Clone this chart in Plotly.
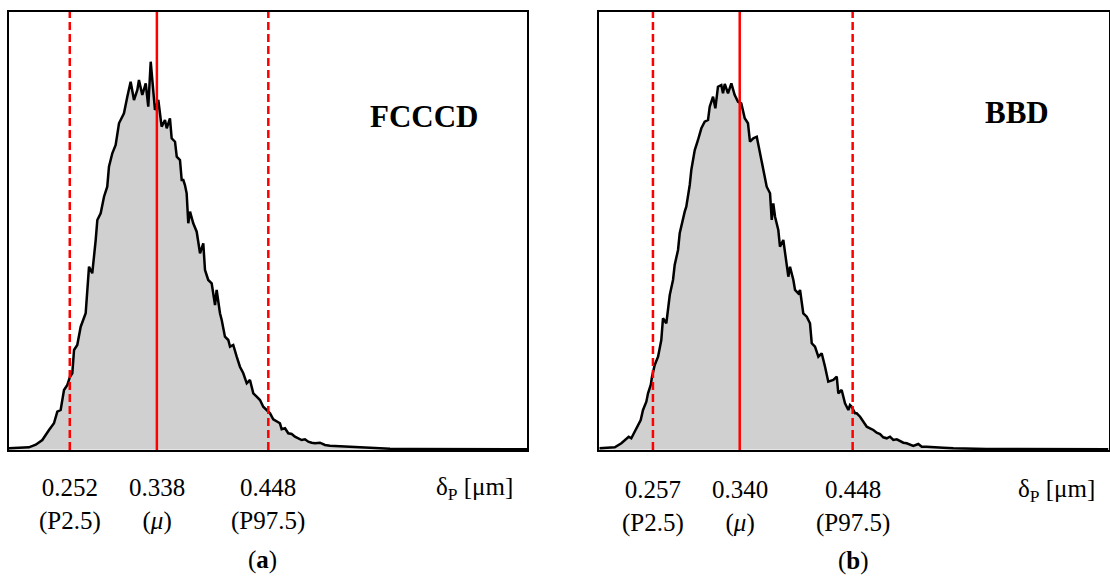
import plotly.graph_objects as go

# ---------------- data ----------------
# Panel (a) FCCCD : delta_P [um] and histogram frequency (arbitrary counts)
a_x = [0.1920, 0.2117, 0.2184, 0.2249, 0.2315, 0.2364, 0.2397, 0.2430, 0.2463, 0.2496,
       0.2522, 0.2545, 0.2562, 0.2594, 0.2628, 0.2660, 0.2677, 0.2710, 0.2742, 0.2776,
       0.2792, 0.2825, 0.2858, 0.2890, 0.2907, 0.2940, 0.2973, 0.3006, 0.3055, 0.3088,
       0.3121, 0.3154, 0.3187, 0.3203, 0.3236, 0.3270, 0.3295, 0.3319, 0.3339, 0.3361,
       0.3394, 0.3411, 0.3427, 0.3460, 0.3477, 0.3509, 0.3526, 0.3559, 0.3576, 0.3608,
       0.3625, 0.3641, 0.3657, 0.3674, 0.3690, 0.3707, 0.3739, 0.3773, 0.3806, 0.3838,
       0.3855, 0.3887, 0.3921, 0.3954, 0.3970, 0.4003, 0.4020, 0.4052, 0.4085, 0.4102,
       0.4134, 0.4168, 0.4200, 0.4233, 0.4267, 0.4299, 0.4332, 0.4365, 0.4398, 0.4430,
       0.4464, 0.4497, 0.4529, 0.4563, 0.4595, 0.4612, 0.4645, 0.4677, 0.4711, 0.4743,
       0.4776, 0.4809, 0.4842, 0.4875, 0.4908, 0.4941, 0.4990, 0.5039, 0.5089, 0.5155,
       0.5220, 0.5319, 0.5418, 0.5550, 0.5681, 0.5879, 0.6142, 0.6471, 0.7034]
a_y = [12, 22, 48, 95, 195, 262, 378, 395, 595, 645,
       728, 762, 995, 1045, 1228, 1328, 1362, 1828, 1762, 2095,
       2295, 2362, 2528, 2628, 2828, 2962, 3045, 3262, 3362, 3528,
       3678, 3495, 3595, 3695, 3545, 3662, 3428, 3878, 3628, 3395,
       3495, 3378, 3228, 3295, 3212, 3312, 3112, 3078, 2928, 2895,
       2695, 2695, 2645, 2562, 2262, 2378, 2262, 2178, 1962, 2062,
       1795, 1695, 1662, 1445, 1595, 1362, 1295, 1128, 1095, 1028,
       1045, 928, 828, 762, 662, 695, 562, 528, 495, 428,
       395, 362, 302, 278, 262, 202, 212, 162, 155, 128,
       112, 95, 102, 78, 68, 62, 68, 45, 38, 35,
       28, 25, 18, 12, 8, 5, 5, 2, 2]

# Panel (b) BBD
b_x = [0.2057, 0.2205, 0.2268, 0.2315, 0.2338, 0.2363, 0.2396, 0.2427, 0.2453, 0.2475,
       0.2507, 0.2523, 0.2549, 0.2561, 0.2587, 0.2619, 0.2650, 0.2666, 0.2698, 0.2731,
       0.2762, 0.2778, 0.2810, 0.2826, 0.2858, 0.2874, 0.2889, 0.2922, 0.2937, 0.2970,
       0.3001, 0.3033, 0.3065, 0.3097, 0.3113, 0.3145, 0.3167, 0.3192, 0.3224, 0.3240,
       0.3257, 0.3288, 0.3320, 0.3352, 0.3384, 0.3415, 0.3448, 0.3479,
       0.3498, 0.3530, 0.3563, 0.3594, 0.3626, 0.3658, 0.3690, 0.3706, 0.3721, 0.3738,
       0.3769, 0.3785, 0.3817, 0.3833, 0.3865, 0.3881, 0.3913, 0.3929, 0.3960, 0.3977,
       0.4008, 0.4041, 0.4072, 0.4089, 0.4120, 0.4152, 0.4184, 0.4216, 0.4247, 0.4295,
       0.4328, 0.4343, 0.4375, 0.4407, 0.4439, 0.4455, 0.4471, 0.4503, 0.4519,
       0.4551, 0.4582, 0.4615, 0.4646, 0.4678, 0.4710, 0.4742, 0.4773, 0.4806, 0.4837,
       0.4869, 0.4902, 0.4933, 0.4965, 0.4997, 0.5029, 0.5060, 0.5108, 0.5141, 0.5188,
       0.5252, 0.5347, 0.5443, 0.5571, 0.5762, 0.5985, 0.6304, 0.6927]
b_y = [12, 22, 62, 102, 128, 112, 178, 245, 295, 395,
       478, 562, 645, 728, 845, 928, 1095, 1312, 1262, 1545,
       1695, 1845, 1995, 2162, 2328, 2378, 2428, 2645, 2795, 2995,
       3095, 3212, 3278, 3295, 3428, 3528, 3412, 3628, 3645, 3562,
       3655, 3562, 3662, 3545, 3478, 3462, 3312, 3262,
       3078, 3112, 3128, 2962, 2828, 2628, 2562, 2295, 2462, 2328,
       2195, 2028, 2095, 1978, 1728, 1828, 1695, 1595, 1562, 1595,
       1362, 1328, 1262, 1062, 1028, 928, 962, 828, 678, 695,
       728, 562, 595, 462, 395, 445, 428, 362, 362,
       328, 278, 228, 212, 195, 168, 155, 122, 112, 128,
       95, 102, 85, 68, 62, 52, 35, 55, 28, 28,
       22, 18, 12, 8, 5, 5, 2, 2]

# Statistics (P2.5, mean, P97.5)
a_stats = [0.252, 0.338, 0.448]
b_stats = [0.257, 0.340, 0.448]
a_ticks = ["0.252", "0.338", "0.448"]
b_ticks = ["0.257", "0.340", "0.448"]
stat_names = ["(P2.5)", "(<i>μ</i>)", "(P97.5)"]
stat_dash = ["8px,4px", "solid", "8px,4px"]
panel_titles = ["FCCCD", "BBD"]
panel_tags = ["(<b>a</b>)", "(<b>b</b>)"]
axis_title = "δ<sub>P</sub> [μm]"

# ---------------- figure ----------------
W, H = 1110, 576
TOP, BOT = 12, 450
SERIF = "Liberation Serif, Times New Roman, serif"


def py(p):
    """pixel row -> paper y"""
    return (BOT - p) / (BOT - TOP)


def px(p):
    return p / W


fig = go.Figure()
fig.add_trace(go.Scatter(x=a_x, y=a_y, mode="lines", fill="tozeroy",
                         fillcolor="#D0D0D0", line=dict(color="black", width=2.5),
                         xaxis="x", yaxis="y", hoverinfo="skip", showlegend=False))
fig.add_trace(go.Scatter(x=b_x, y=b_y, mode="lines", fill="tozeroy",
                         fillcolor="#D0D0D0", line=dict(color="black", width=2.5),
                         xaxis="x2", yaxis="y2", hoverinfo="skip", showlegend=False))

axis_common = dict(showgrid=False, zeroline=False, showticklabels=False, ticks="",
                   showline=True, mirror=True, linecolor="black", linewidth=2)

fig.update_layout(
    width=W, height=H,
    margin=dict(l=0, r=0, t=TOP, b=H - BOT),
    paper_bgcolor="white", plot_bgcolor="white",
    xaxis=dict(domain=[px(9), px(527)], range=[a_x[0], a_x[-1]], anchor="y", **axis_common),
    yaxis=dict(domain=[0, 1], range=[-5, 4375], anchor="x", **axis_common),
    xaxis2=dict(domain=[px(599.3), px(1108.5)], range=[b_x[0], b_x[-1]], anchor="y2", **axis_common),
    yaxis2=dict(domain=[0, 1], range=[-5, 4375], anchor="x2", **axis_common),
)

shapes = []
annotations = []
panels = [("x", a_stats, a_ticks, 0), ("x2", b_stats, b_ticks, 2)]
for (xr, stats, ticks, dy) in panels:
    ydom = "y domain" if xr == "x" else "y2 domain"
    for v, dash, tk, nm in zip(stats, stat_dash, ticks, stat_names):
        shapes.append(dict(type="line", xref=xr, yref=ydom, x0=v, x1=v, y0=0, y1=1,
                           line=dict(color="#FF0000", width=2.5, dash=dash), layer="above"))
        annotations.append(dict(xref=xr, yref="paper", x=v, y=py(504.5 + dy),
                                text=f"{tk}<br>{nm}", showarrow=False,
                                xanchor="center", yanchor="middle",
                                font=dict(family=SERIF, size=25, color="black")))

# axis titles
annotations.append(dict(xref="paper", yref="paper", x=px(474), y=py(488),
                        text=axis_title, showarrow=False, xanchor="center", yanchor="middle",
                        font=dict(family=SERIF, size=25, color="black")))
annotations.append(dict(xref="paper", yref="paper", x=px(1056), y=py(490),
                        text=axis_title, showarrow=False, xanchor="center", yanchor="middle",
                        font=dict(family=SERIF, size=25, color="black")))
# panel titles
annotations.append(dict(xref="paper", yref="paper", x=px(424), y=py(117),
                        text=f"<b>{panel_titles[0]}</b>", showarrow=False,
                        xanchor="center", yanchor="middle",
                        font=dict(family=SERIF, size=31, color="black")))
annotations.append(dict(xref="paper", yref="paper", x=px(1017), y=py(112),
                        text=f"<b>{panel_titles[1]}</b>", showarrow=False,
                        xanchor="center", yanchor="middle",
                        font=dict(family=SERIF, size=31, color="black")))
# panel tags
annotations.append(dict(xref="paper", yref="paper", x=px(262), y=py(560),
                        text=panel_tags[0], showarrow=False, xanchor="center", yanchor="middle",
                        font=dict(family=SERIF, size=25, color="black")))
annotations.append(dict(xref="paper", yref="paper", x=px(853), y=py(561),
                        text=panel_tags[1], showarrow=False, xanchor="center", yanchor="middle",
                        font=dict(family=SERIF, size=25, color="black")))

fig.update_layout(shapes=shapes, annotations=annotations)
fig.write_html("out.html", config={"displayModeBar": False},
               post_script="document.body.style.margin='0';document.body.style.overflow='hidden';")
